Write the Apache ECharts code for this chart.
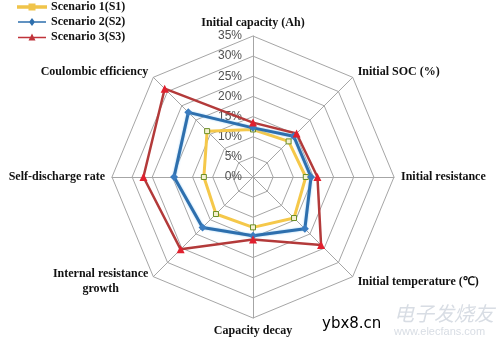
<!DOCTYPE html>
<html>
<head>
<meta charset="utf-8">
<script src="https://cdn.jsdelivr.net/npm/echarts@6/dist/echarts.min.js"></script>
<style>html,body{margin:0;padding:0;background:#fff}#c{width:500px;height:345px}</style>
</head>
<body>
<div id="c"></div>
<script>
// indicators listed counterclockwise from the top (ECharts order)
const indicators = ['Initial capacity (Ah)', 'Coulombic efficiency', 'Self-discharge rate', 'Internal resistance\ngrowth', 'Capacity decay', 'Initial temperature (\u2103)', 'Initial resistance', 'Initial SOC (%)'];
const tickMax = 35;
const tickStep = 5;
const seriesNames = ['Scenario 1(S1)', 'Scenario 2(S2)', 'Scenario 3(S3)'];
const s1 = [11.8, 16.1, 12.2, 13.0, 12.5, 14.4, 13.1, 12.5];
const s2 = [12.2, 22.7, 19.6, 17.7, 14.6, 18.2, 14.4, 14.3];
const s3 = [13.5, 31.0, 27.2, 25.4, 15.5, 23.9, 16.0, 15.3];

const chart = echarts.init(document.getElementById('c'), null, {renderer: 'canvas'});
const nameFont = {fontFamily: 'Liberation Serif', fontWeight: 'bold', fontSize: 12, color: '#111'};
const lineIcon = 'M0,4.2 L28,4.2 L28,5.8 L0,5.8 Z ';
chart.setOption({
  animation: false,
  backgroundColor: '#fff',
  legend: {
    orient: 'vertical', left: 12, top: -4, itemGap: 3, itemWidth: 28, itemHeight: 10,
    textStyle: {fontFamily: 'Liberation Serif', fontWeight: 'bold', fontSize: 12, color: '#111'},
    data: [
      {name: seriesNames[0], icon: 'path://' + lineIcon + 'M11.5,2.5 L16.5,2.5 L16.5,7.5 L11.5,7.5 Z',
        itemStyle: {color: '#f0c44a', borderColor: '#f0c44a'}},
      {name: seriesNames[1], icon: 'path://' + lineIcon + 'M14,1 L17,5 L14,9 L11,5 Z',
        itemStyle: {color: '#2e6fad', borderColor: '#2e6fad'}},
      {name: seriesNames[2], icon: 'path://' + lineIcon + 'M14,1 L17.5,8 L10.5,8 Z',
        itemStyle: {color: '#c0333a', borderColor: '#c0333a'}}
    ]
  },
  radar: {
    center: [253, 177], radius: 141, shape: 'polygon', splitNumber: tickMax / tickStep,
    nameGap: 7,
    axisName: Object.assign({}, nameFont, {
      formatter: n => n.indexOf('\n') >= 0 ? n.split('\n').map(l => '{c|' + l + '}').join('\n') : n,
      rich: {c: Object.assign({align: 'center', lineHeight: 15}, nameFont)}
    }),
    indicator: indicators.map((n, i) => ({name: n, min: 0, max: tickMax,
      axisLabel: {show: i === 0}})),
    axisLine: {lineStyle: {color: '#a6a6a6', width: 1}},
    splitLine: {lineStyle: {color: '#a6a6a6', width: 1}},
    splitArea: {show: false},
    axisTick: {show: false},
    axisLabel: {show: false, formatter: v => v + '%', fontFamily: 'Liberation Sans', fontSize: 12, color: '#505050', margin: 11}
  },
  series: [{
    type: 'radar',
    data: [
      {name: seriesNames[0], value: s1, symbol: 'rect', symbolSize: 5,
        lineStyle: {color: '#f5c84a', width: 3}, itemStyle: {color: '#f5f0d0', borderColor: '#6b8e23', borderWidth: 1}},
      {name: seriesNames[1], value: s2, symbol: 'diamond', symbolSize: 8,
        lineStyle: {color: '#2e6fad', width: 3, shadowColor: 'rgba(120,190,240,0.8)', shadowBlur: 2}, itemStyle: {color: '#3a7cc0'}},
      {name: seriesNames[2], value: s3, symbol: 'triangle', symbolSize: 8,
        lineStyle: {color: '#b33a3a', width: 2.5}, itemStyle: {color: '#e0202e'}}
    ]
  }],
  graphic: [
    {type: 'text', left: 322, top: 317, style: {text: 'ybx8.cn', font: '15px "DejaVu Sans"', fill: '#000'}},
    {type: 'text', left: 394, top: 303, style: {text: '\u7535\u5b50\u53d1\u70e7\u53cb', font: 'italic 20px "Noto Sans CJK SC"', fill: '#d8dde4'}},
    {type: 'text', left: 394, top: 326, style: {text: 'www.elecfans.com', font: '11px "Liberation Sans"', fill: '#d8dde4'}}
  ]
});
</script>
</body>
</html>
